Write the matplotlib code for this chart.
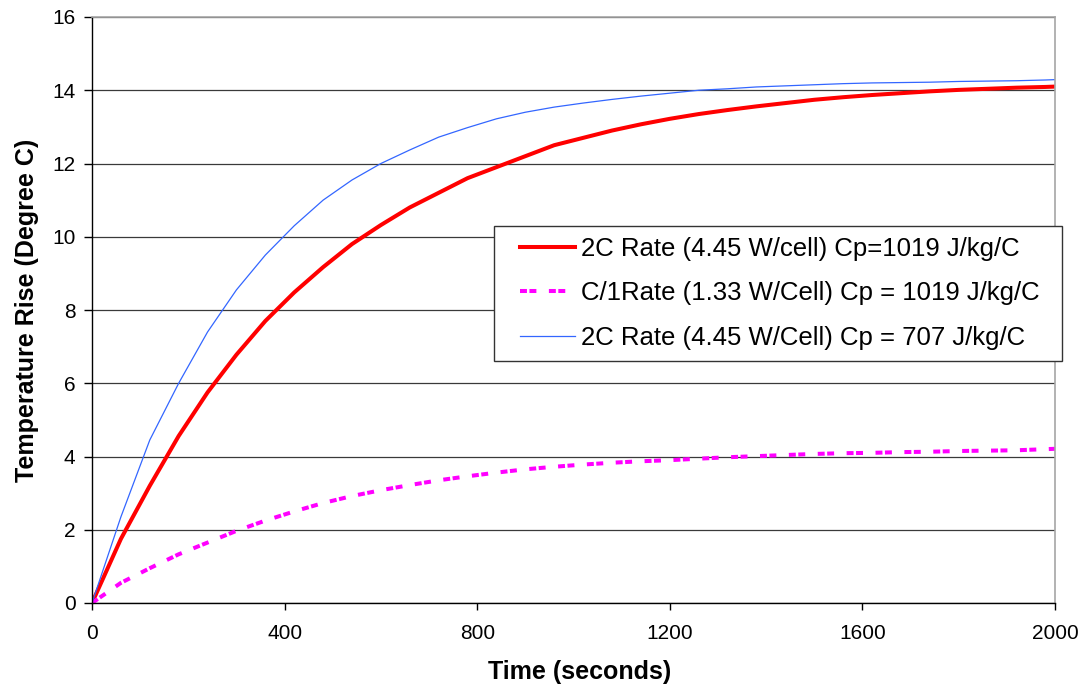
"Temperature rise vs time for three cell heating cases"
import matplotlib
matplotlib.use("Agg")
import matplotlib.pyplot as plt
from matplotlib.lines import Line2D
from matplotlib.legend_handler import HandlerLine2D

plt.rcParams["font.family"] = ["Liberation Sans", "DejaVu Sans"]
plt.rcParams["lines.scale_dashes"] = False

# sample times (s) and temperature rise (deg C)
time_s = list(range(0, 1981, 60)) + [2000]
rise_2c_1019 = [0, 1.75, 3.2, 4.56, 5.75, 6.78, 7.7, 8.48, 9.17, 9.8,
                10.32, 10.8, 11.2, 11.6, 11.9, 12.2, 12.5, 12.7, 12.9, 13.07,
                13.22, 13.35, 13.46, 13.56, 13.65, 13.74, 13.81, 13.87, 13.92, 13.97,
                14.01, 14.04, 14.07, 14.09, 14.1]
rise_c1_1019 = [0, 0.55, 0.95, 1.33, 1.65, 1.97, 2.25, 2.5, 2.73, 2.92,
                3.08, 3.22, 3.35, 3.46, 3.56, 3.65, 3.72, 3.78, 3.83, 3.87,
                3.9, 3.94, 3.98, 4.01, 4.04, 4.07, 4.09, 4.1, 4.12, 4.13,
                4.15, 4.16, 4.17, 4.2, 4.21]
rise_2c_707 = [0, 2.35, 4.45, 6.0, 7.4, 8.55, 9.5, 10.3, 11.0, 11.55,
               12.0, 12.37, 12.72, 12.98, 13.22, 13.4, 13.54, 13.65, 13.75, 13.84,
               13.92, 14.0, 14.04, 14.09, 14.12, 14.15, 14.18, 14.2, 14.21, 14.22,
               14.24, 14.25, 14.26, 14.28, 14.29]

labels = ["2C Rate (4.45 W/cell) Cp=1019 J/kg/C",
          "C/1Rate (1.33 W/Cell) Cp = 1019 J/kg/C",
          "2C Rate (4.45 W/Cell) Cp = 707 J/kg/C"]
x_ticks = [0, 400, 800, 1200, 1600, 2000]
y_ticks = [0, 2, 4, 6, 8, 10, 12, 14, 16]

fig = plt.figure(figsize=(10.85, 6.94), dpi=100)
ax = fig.add_axes([92 / 1085, 1 - 603 / 694, 963 / 1085, 586 / 694])

ax.plot(time_s, rise_2c_1019, color="#ff0000", linewidth=2.9, label=labels[0],
        solid_joinstyle="round")
ax.plot(time_s, rise_c1_1019, color="#ff00ff", linewidth=2.9, label=labels[1],
        linestyle=(0, (5.0, 1.8, 5.0, 9.0)), dash_capstyle="butt")
ax.plot(time_s, rise_2c_707, color="#3366ff", linewidth=0.9, label=labels[2])

ax.set_xlim(0, 2000)
ax.set_ylim(0, 16)
ax.set_xticks(x_ticks)
ax.set_yticks(y_ticks)
ax.tick_params(axis="x", direction="out", length=5, width=1, pad=10, labelsize=15)
ax.tick_params(axis="y", direction="out", length=5.8, width=1, pad=6, labelsize=15)

ax.yaxis.grid(True, color="#3a3a3a", linewidth=0.9)
ax.set_axisbelow(True)
for side in ["left", "bottom"]:
    ax.spines[side].set_color("black")
    ax.spines[side].set_linewidth(1.0)
for side in ["top", "right"]:
    ax.spines[side].set_color("#a6a6a6")
    ax.spines[side].set_linewidth(1.2)

ax.set_xlabel("Time (seconds)", fontsize=18, fontweight="bold", va="center")
ax.xaxis.set_label_coords(0.506, -0.118)
ax.set_ylabel("Temperature Rise (Degree C)", fontsize=18, fontweight="bold", va="center")
ax.yaxis.set_label_coords(-0.068, 0.5)

leg = ax.legend(loc="upper left",
                bbox_to_anchor=(494 / 1085, 1 - 359 / 694, 568 / 1085, 133 / 694),
                bbox_transform=fig.transFigure, mode="expand", borderaxespad=0,
                fontsize=18.5, frameon=True, fancybox=False, framealpha=1,
                edgecolor="#333333", borderpad=0.42, labelspacing=0.8,
                handlelength=2.75, handletextpad=0.2,
                handler_map={Line2D: HandlerLine2D(xpad=0.6)})
leg.get_frame().set_linewidth(1.0)

fig.savefig("out.png", dpi=100)
